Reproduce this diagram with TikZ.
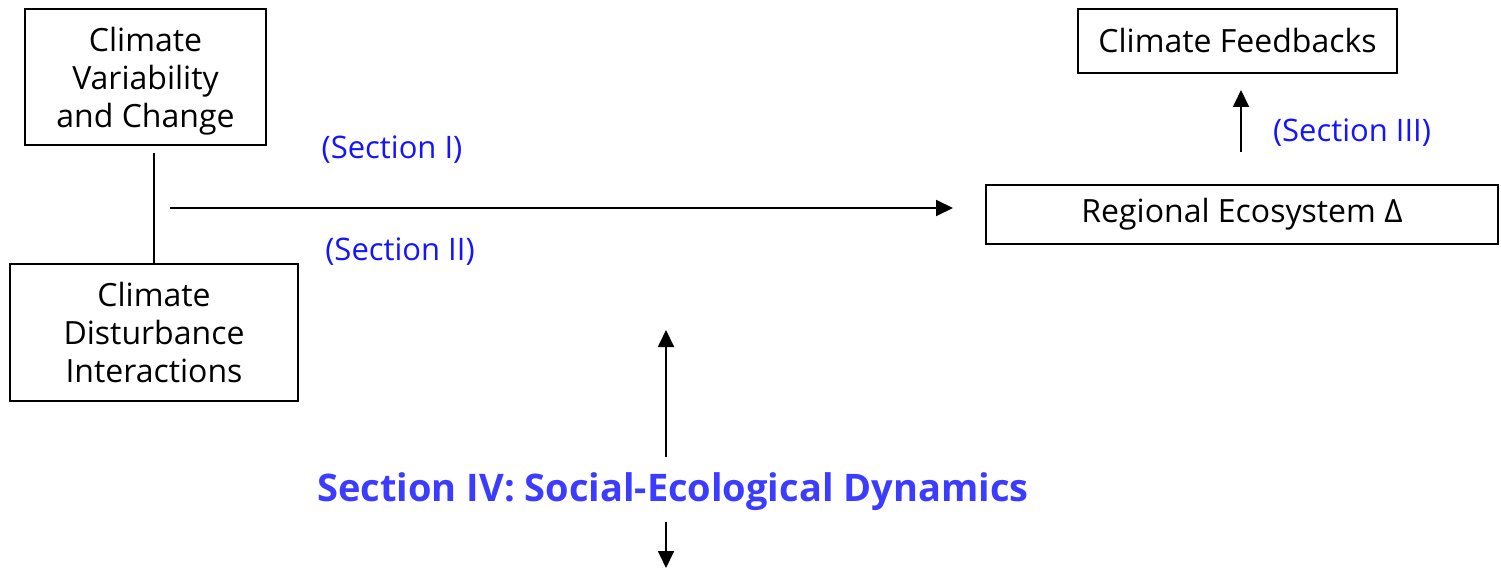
\documentclass[tikz,border=0pt]{standalone}
\usepackage{fontspec}
\setmainfont{Open Sans}
\usetikzlibrary{arrows.meta,positioning}
\definecolor{lblblue}{RGB}{20,20,255}
\definecolor{headblue}{RGB}{60,60,255}
\begin{document}
\begin{tikzpicture}[x=1pt,y=-1pt,
  box/.style={draw,line width=1.4pt,align=center,inner sep=0pt,font=\fontsize{32}{38}\selectfont},
  lbl/.style={text=lblblue,font=\fontsize{31}{34}\selectfont,inner sep=0pt},
  conn/.style={line width=1.8pt},
  arr/.style={conn,-{Triangle[length=17pt,width=16pt]}}]
\useasboundingbox (0,0) rectangle (1501,569);
% boxes
\node[box,minimum width=241pt,minimum height=136pt,text depth=-3pt] (cvc) at (145.5,77)
  {Climate\\Variability\\and Change};
\node[box,minimum width=288pt,minimum height=137pt,text depth=-3pt] (cdi) at (154,332.5)
  {Climate\\Disturbance\\Interactions};
\node[box,minimum width=512pt,minimum height=59pt] (reg) at (1242,214.5)
  {Regional Ecosystem Δ};
\node[box,minimum width=319pt,minimum height=64pt] (fb) at (1237.5,41)
  {Climate Feedbacks};
% labels
\node[lbl] (s1) at (392,150) {(Section I)};
\node[lbl] (s2) at (400,252) {(Section II)};
\node[lbl] (s3) at (1352,133) {(Section III)};
\node[text=headblue,font=\bfseries\fontsize{38}{44}\selectfont,inner sep=0pt] (s4) at (673,492)
  {Section IV: Social-Ecological Dynamics};
% connector endpoints
\coordinate (vtop) at (154,153);
\coordinate (hs) at (170,208);
\coordinate (he) at (953,208);
\coordinate (fs) at (1241,152);
\coordinate (fe) at (1241,90);
\coordinate (us) at (666,457);
\coordinate (ue) at (666,330);
\coordinate (ds) at (666,522);
\coordinate (de) at (666,568);
% connectors
\draw[conn] (vtop) -- (cdi.north -| vtop);
\draw[arr] (hs) -- (he);
\draw[arr] (fs) -- (fe);
\draw[arr] (us) -- (ue);
\draw[arr] (ds) -- (de);
\end{tikzpicture}
\end{document}
